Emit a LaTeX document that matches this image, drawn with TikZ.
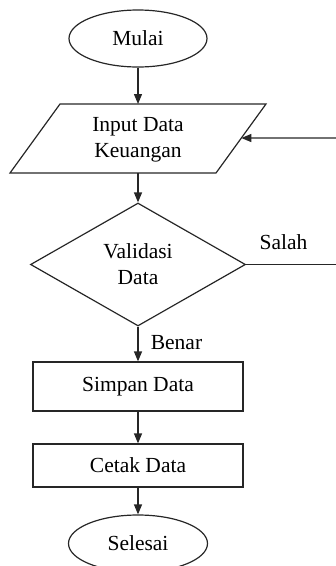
\documentclass[tikz,border=0pt]{standalone}
\usepackage{fontspec}
\setmainfont{Liberation Serif}
\usetikzlibrary{shapes.geometric,arrows.meta,calc}
\begin{document}
\begin{tikzpicture}[x=1pt,y=-1pt,
  line/.style={draw=black!85,line width=1.2pt},
  arr/.style={line,-{Triangle[length=10pt,width=8pt]}},
  txt/.style={font=\fontsize{21.5}{26}\selectfont,align=center,inner sep=0pt},
  term/.style={txt,line,ellipse,minimum width=138pt,minimum height=57pt},
  proc/.style={txt,line,rectangle,minimum width=210pt},
  decide/.style={txt,line,diamond,aspect=1.75,minimum width=215pt,minimum height=123pt},
  lbl/.style={font=\fontsize{21.5}{26}\selectfont,inner sep=0pt}]
\useasboundingbox (0,0) rectangle (336,566);
\clip (0,0) rectangle (336,566);
\node[term] (mulai) at (138,38.5) {Mulai};
\node[txt] (input) at (138,140) {Input Data\\Keuangan};
\draw[line] (60,104) coordinate (inTL) -- (266,104) coordinate (inTR)
  -- (216,173) coordinate (inBR) -- (10,173) coordinate (inBL) -- cycle;
\coordinate (intop) at (138,104);
\coordinate (inbot) at (138,173);
\node[decide] (valid) at (138,264.5) {Validasi\\Data};
\node[proc,minimum height=49pt] (simpan) at (138,386.5) {Simpan Data};
\node[proc,minimum height=43pt] (cetak) at (138,465.5) {Cetak Data};
\node[term,minimum width=139pt] (selesai) at (138,543.5) {Selesai};
\coordinate (rin) at (337,138);
\coordinate (rout) at (337,264.5);
\draw[arr] (mulai.south) -- (intop);
\draw[arr] (inbot) -- (valid.north);
\draw[arr] (valid.south) -- (simpan.north);
\draw[arr] (simpan.south) -- (cetak.north);
\draw[arr] (cetak.south) -- (selesai.north);
\draw[line] (valid.east) -- (rout);
\draw[arr] (rin) -- ($(inTR)!0.493!(inBR)$);
\node[lbl] (salah) at (283.5,242) {Salah};
\node[lbl] (benar) at (176.5,343) {Benar};
\end{tikzpicture}
\end{document}
